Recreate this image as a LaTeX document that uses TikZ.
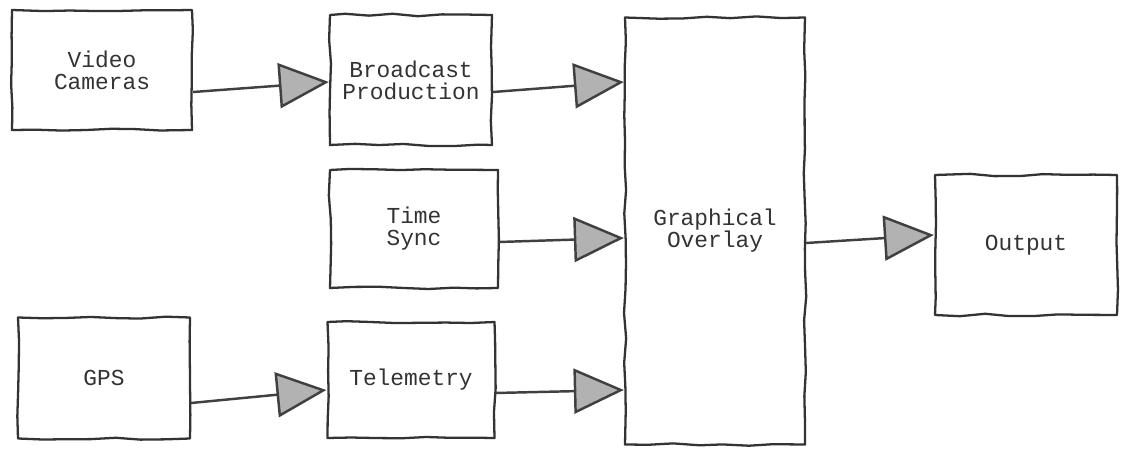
\documentclass[tikz,border=0pt]{standalone}
\usepackage{fontspec}
\usepackage{tikz}
\usetikzlibrary{arrows.meta}
\usetikzlibrary{decorations.pathmorphing}
\newfontfamily\sketchfont{Liberation Mono}

\begin{document}
\begin{tikzpicture}[
	block/.style={draw=black!80, line width=1.3pt, line join=round,
		decorate, decoration={random steps, segment length=14pt, amplitude=0.7pt},
		font=\sketchfont\fontsize{13}{12.5}\selectfont, text=black!80, align=center,
		inner sep=0pt},
	flow/.style={line width=1.4pt, color=black!75,
		-{Triangle[length=1cm, width=0.9cm, fill=black!30]}}
]
\pgfmathsetseed{7}
\useasboundingbox (0,0) rectangle (22.42,9.04);

\node[block, minimum width=3.6cm, minimum height=2.4cm] (vidcam) at (2.04,7.64) {Video\\Cameras};
\node[block, minimum width=3.24cm, minimum height=2.6cm] (broadcast) at (8.22,7.44) {Broadcast\\Production};
\node[block, minimum width=3.36cm, minimum height=2.36cm] (timesync) at (8.28,4.46) {Time\\Sync};
\node[block, minimum width=3.44cm, minimum height=2.42cm] (gps) at (2.08,1.48) {GPS};
\node[block, minimum width=3.34cm, minimum height=2.32cm] (telemetry) at (8.22,1.44) {Telemetry};
\node[block, minimum width=3.6cm, minimum height=8.54cm] (overlay) at (14.3,4.42) {Graphical\\Overlay};
\node[block, minimum width=3.64cm, minimum height=2.8cm] (output) at (20.52,4.14) {Output};

\path[flow]
([yshift=-0.44cm]vidcam.east) edge ([yshift=-0.04cm]broadcast.west)
([yshift=-0.24cm]broadcast.east) edge ([yshift=2.98cm]overlay.west)
([yshift=-0.26cm]timesync.east) edge ([yshift=-0.14cm]overlay.west)
([yshift=-0.26cm]telemetry.east) edge ([yshift=-3.18cm]overlay.west)
([yshift=-0.24cm]overlay.east) edge ([yshift=0.2cm]output.west)
([yshift=-0.5cm]gps.east) edge ([yshift=-0.2cm]telemetry.west);
\end{tikzpicture}
\end{document}
